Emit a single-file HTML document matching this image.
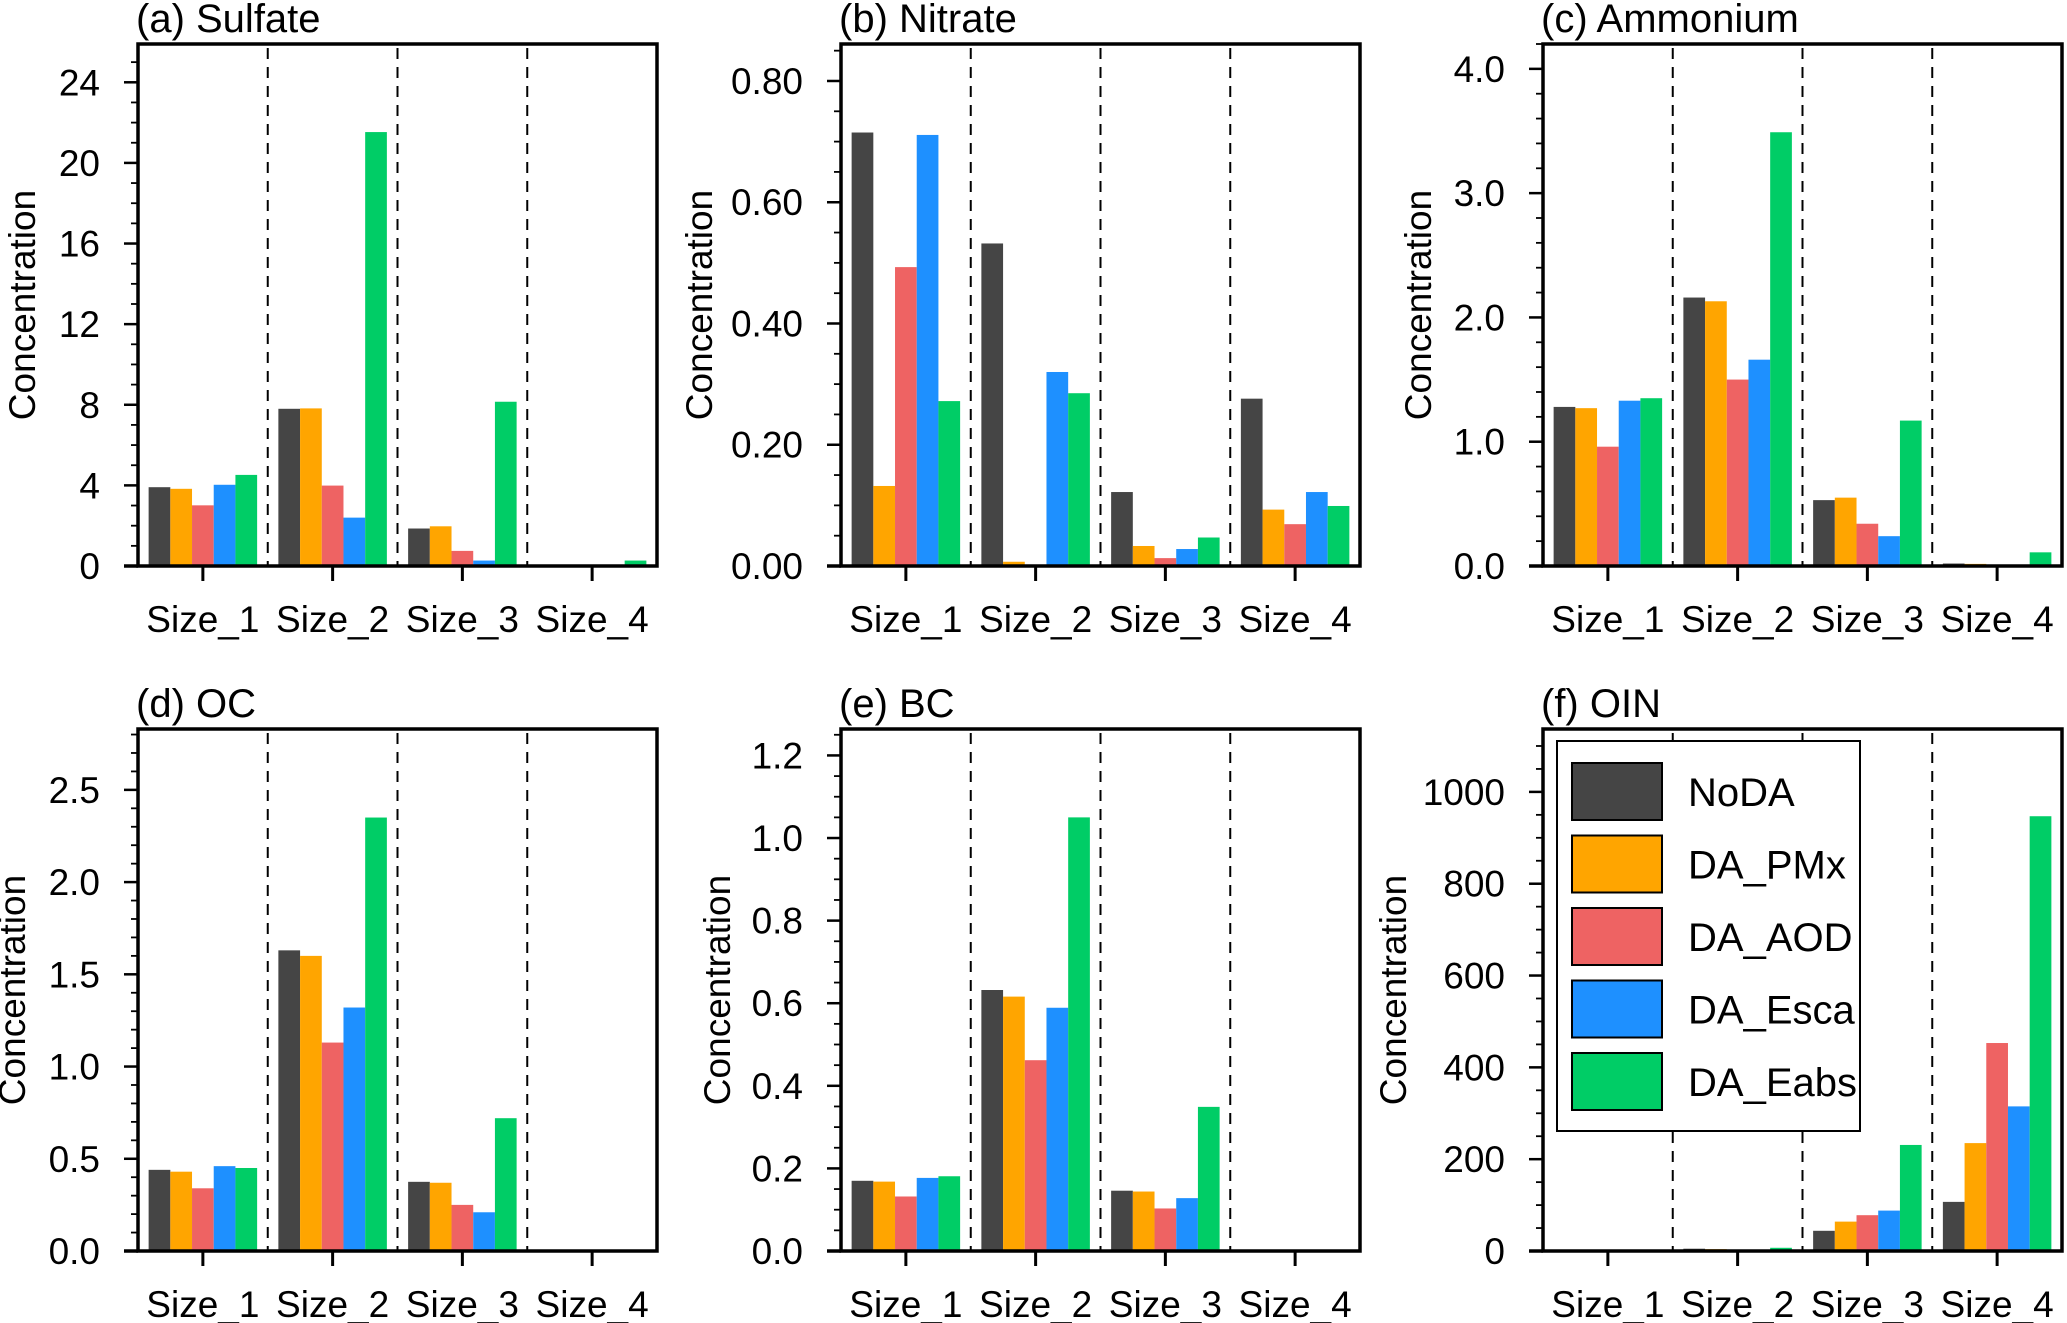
<!DOCTYPE html>
<html><head><meta charset="utf-8"><style>
html,body{margin:0;padding:0;background:#fff}
svg{display:block}
text{font-family:"Liberation Sans",Arial,sans-serif;fill:#000}
</style></head><body>
<svg id="fig" xmlns="http://www.w3.org/2000/svg" width="2067" height="1323" viewBox="0 0 2067 1323"></svg>
<script>
const categories = ["Size_1","Size_2","Size_3","Size_4"];
const seriesNames = ["NoDA","DA_PMx","DA_AOD","DA_Esca","DA_Eabs"];
const seriesColors = ["#454545","#ffa500","#ee6363","#1e90ff","#00cd66"];

const sulfate = [[3.91,3.83,3.01,4.03,4.52],[7.8,7.82,3.99,2.4,21.53],[1.86,1.97,0.75,0.27,8.15],[0,0,0,0,0.27]];
const nitrate = [[0.715,0.132,0.493,0.711,0.272],[0.532,0.007,0,0.32,0.285],[0.122,0.033,0.013,0.028,0.047],[0.276,0.093,0.069,0.122,0.099]];
const ammonium = [[1.28,1.27,0.96,1.33,1.35],[2.16,2.13,1.5,1.66,3.49],[0.53,0.55,0.34,0.24,1.17],[0.02,0.017,0.01,0,0.11]];
const oc = [[0.44,0.43,0.34,0.46,0.45],[1.63,1.6,1.13,1.32,2.35],[0.375,0.37,0.25,0.21,0.72],[0,0,0,0,0]];
const bc = [[0.17,0.168,0.132,0.177,0.181],[0.632,0.616,0.462,0.589,1.05],[0.146,0.144,0.103,0.128,0.349],[0,0,0,0,0]];
const oin = [[0,0,0,0,0],[5,4,0,0,7],[44,64,78,88,231],[107,235,453,315,947]];

const sulfateTicks = ["0","4","8","12","16","20","24"];
const nitrateTicks = ["0.00","0.20","0.40","0.60","0.80"];
const ammoniumTicks = ["0.0","1.0","2.0","3.0","4.0"];
const ocTicks = ["0.0","0.5","1.0","1.5","2.0","2.5"];
const bcTicks = ["0.0","0.2","0.4","0.6","0.8","1.0","1.2"];
const oinTicks = ["0","200","400","600","800","1000"];

const panels = [
 {id:"sulfate",title:"(a) Sulfate",data:sulfate,ticks:sulfateTicks,ymax:25.9,minor:1,x:138,y:44,lab:116},
 {id:"nitrate",title:"(b) Nitrate",data:nitrate,ticks:nitrateTicks,ymax:0.861,minor:0.05,x:841,y:44,lab:142},
 {id:"ammonium",title:"(c) Ammonium",data:ammonium,ticks:ammoniumTicks,ymax:4.2,minor:0.2,x:1543,y:44,lab:125},
 {id:"oc",title:"(d) OC",data:oc,ticks:ocTicks,ymax:2.83,minor:0.1,x:138,y:729,lab:126},
 {id:"bc",title:"(e) BC",data:bc,ticks:bcTicks,ymax:1.264,minor:0.05,x:841,y:729,lab:124},
 {id:"oin",title:"(f) OIN",data:oin,ticks:oinTicks,ymax:1137,minor:50,x:1543,y:729,lab:150,legend:true}
];
const W=519,H=522;
const NS="http://www.w3.org/2000/svg";
const svg=document.getElementById("fig");
function mk(tag,attrs,parent){const e=document.createElementNS(NS,tag);for(const k in attrs)e.setAttribute(k,attrs[k]);(parent||svg).appendChild(e);return e;}

panels.forEach(p=>{
  const g=mk("g",{});
  
  
  const y0=p.y+H;
  const ys=v=>y0-v/p.ymax*H;
  const gw=W/categories.length, bw=21.7, off=(gw-bw*seriesNames.length)/2;
  const t=mk("text",{x:p.x-2,y:p.y-12,"font-size":40},g);t.textContent=p.title;
  
  
  p.data.forEach((grp,ci)=>{grp.forEach((v,si)=>{
    if(v<=0)return;
    const r=mk("rect",{x:p.x+ci*gw+off+si*bw,y:ys(v),width:bw,height:y0-ys(v),fill:seriesColors[si]},g);
    
    
  });});
  for(let i=1;i<categories.length;i++){
    const l=mk("line",{x1:p.x+i*gw,x2:p.x+i*gw,y1:p.y+4,y2:y0,stroke:"#000","stroke-width":2,"stroke-dasharray":"11,8"},g);
    
    
  }
  const step=parseFloat(p.ticks[1])-parseFloat(p.ticks[0]);
  for(let v=0;v<=p.ymax+1e-9;v+=p.minor){
    const yy=ys(v);
    const isMaj=Math.abs(v/step-Math.round(v/step))<1e-6;
    mk("line",{x1:p.x-(isMaj?14:7),x2:p.x,y1:yy,y2:yy,stroke:"#000","stroke-width":isMaj?2.5:1.8},g);
  }
  p.ticks.forEach(s=>{
    const v=parseFloat(s);
    const tx=mk("text",{x:p.x-38,y:ys(v)+13,"font-size":37,"text-anchor":"end"},g);tx.textContent=s;
    
    
  });
  categories.forEach((c,ci)=>{
    const cx=p.x+ci*gw+gw/2;
    mk("line",{x1:cx,x2:cx,y1:y0,y2:y0+15,stroke:"#000","stroke-width":3},g);
    const tx=mk("text",{x:cx,y:y0+66,"font-size":37,"text-anchor":"middle"},g);tx.textContent=c;
    
    
  });
  const fr=mk("rect",{x:p.x,y:p.y,width:W,height:H,fill:"none",stroke:"#000","stroke-width":3.5},g);
  
  
  mk("line",{x1:p.x-14,x2:p.x,y1:y0,y2:y0,stroke:"#000","stroke-width":3.5},g);
  const yl=mk("text",{x:0,y:0,"font-size":37,"text-anchor":"middle",transform:`translate(${p.x-p.lab+13},${p.y+H/2}) rotate(-90)`},g);
  yl.textContent="Concentration";
  
  
  if(p.legend){
    const lg=mk("g",{},g);
    
    
    mk("rect",{x:p.x+14,y:p.y+12,width:303,height:390,fill:"#fff",stroke:"#000","stroke-width":2},lg);
    seriesNames.forEach((n,si)=>{
      const ey=p.y+34+si*72.5;
      const e=mk("g",{},lg);
      
      
      mk("rect",{x:p.x+29,y:ey,width:90,height:57,fill:seriesColors[si],stroke:"#000","stroke-width":2},e);
      const tx=mk("text",{x:p.x+145,y:ey+43,"font-size":40},e);tx.textContent=n;
    });
  }
});
</script>
</body></html>
